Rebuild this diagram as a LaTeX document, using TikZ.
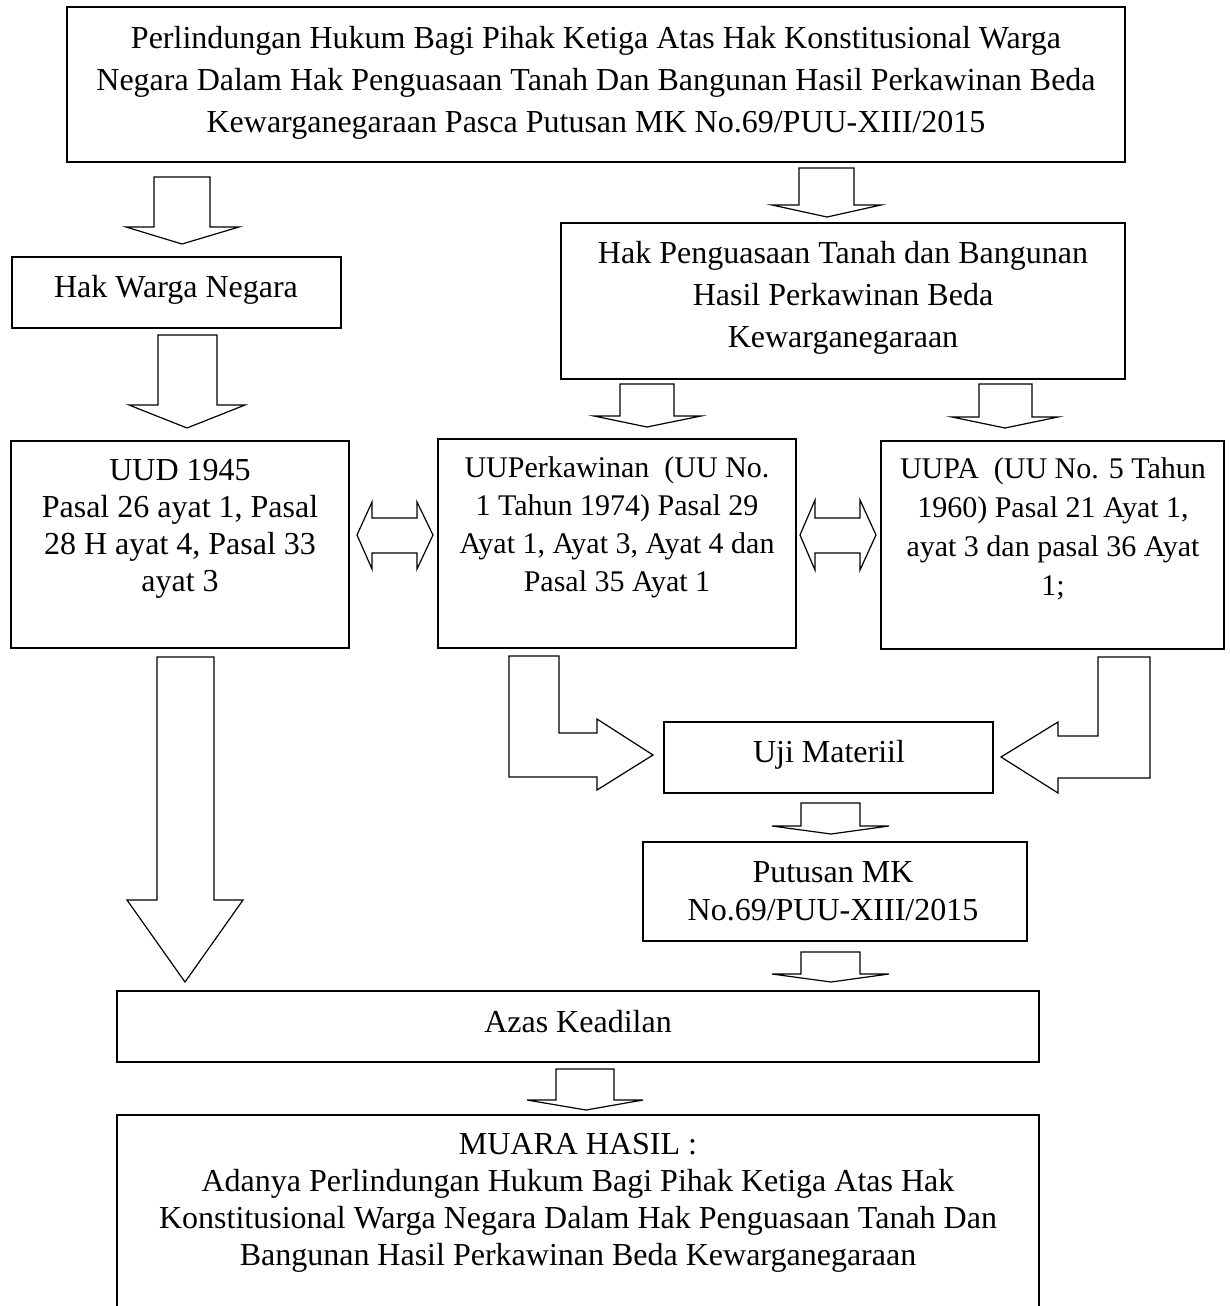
\documentclass[tikz,border=0pt]{standalone}
\usepackage{fontspec}
\setmainfont{Liberation Serif}
\tikzset{
  box/.style={draw, line width=1.6pt, inner sep=0pt},
  blk/.style={draw, line width=1.2pt, line join=miter, fill=white},
  txt/.style={inner sep=0pt, align=center},
}
% block arrow pointing down: xl xr hl hr top heady tipx tipy
\newcommand\mydown[8]{%
  \draw[blk] (#1,#5) -- (#2,#5) -- (#2,#6) -- (#4,#6) -- (#7,#8) -- (#3,#6) -- (#1,#6) -- cycle;}
% double block arrow: tipL innerL innerR tipR headtop shafttop shaftbot headbot mid
\newcommand\mydouble[9]{%
  \draw[blk] (#1,#9) -- (#2,#5) -- (#2,#6) -- (#3,#6) -- (#3,#5) -- (#4,#9)
    -- (#3,#8) -- (#3,#7) -- (#2,#7) -- (#2,#8) -- cycle;}
\begin{document}
\begin{tikzpicture}[x=1pt,y=-1pt]
\clip (0,0) rectangle (1229,1306);
\fill[white] (0,0) rectangle (1229,1306);

% boxes
\node[box, minimum width=1058pt, minimum height=155pt] (top)   at (596,84.5) {};
\node[box, minimum width=329pt,  minimum height=71pt]  (hwn)   at (176.5,292.5) {};
\node[box, minimum width=564pt,  minimum height=156pt] (hp)    at (843,301) {};
\node[box, minimum width=338pt,  minimum height=207pt] (uud)   at (180,544.5) {};
\node[box, minimum width=358pt,  minimum height=209pt] (uup)   at (617,543.5) {};
\node[box, minimum width=343pt,  minimum height=208pt] (uupa)  at (1052.5,545) {};
\node[box, minimum width=329pt,  minimum height=71pt]  (uji)   at (828.5,757.5) {};
\node[box, minimum width=384pt,  minimum height=99pt]  (put)   at (835,891.5) {};
\node[box, minimum width=922pt,  minimum height=71pt]  (azas)  at (578,1026.5) {};
\node[box, minimum width=922pt,  minimum height=215pt] (muara) at (578,1222.5) {};

% texts
\node[txt, anchor=north, font=\fontsize{32}{42}\selectfont] (ttop) at (596,18.6)
  {\strut Perlindungan Hukum Bagi Pihak Ketiga Atas Hak Konstitusional Warga\\
   Negara Dalam Hak Penguasaan Tanah Dan Bangunan Hasil Perkawinan Beda\\
   Kewarganegaraan Pasca Putusan MK No.69/PUU-XIII/2015};
\node[txt, anchor=base, font=\fontsize{32}{42}\selectfont] (thwn) at (176,297) {Hak Warga Negara};
\node[txt, anchor=north, font=\fontsize{32}{42}\selectfont] (thp) at (843,233.6)
  {\strut Hak Penguasaan Tanah dan Bangunan\\ Hasil Perkawinan Beda\\ Kewarganegaraan};
\node[txt, anchor=north, font=\fontsize{32}{37}\selectfont] (tuud) at (180,454.1)
  {\strut UUD 1945\\ Pasal 26 ayat 1, Pasal\\ 28 H ayat 4, Pasal 33\\ ayat 3};
\node[txt, anchor=north, font=\fontsize{30}{38}\selectfont] (tuup) at (617,450.4)
  {\strut UUPerkawinan\ \ (UU No.\\ 1 Tahun 1974) Pasal 29\\ Ayat 1, Ayat 3, Ayat 4 dan\\ Pasal 35 Ayat 1};
\node[txt, anchor=north, font=\fontsize{30}{39}\selectfont] (tuupa) at (1053,450.7)
  {\strut UUPA\ \ (UU No. 5 Tahun\\ 1960) Pasal 21 Ayat 1,\\ ayat 3 dan pasal 36 Ayat\\ 1;};
\node[txt, anchor=base, font=\fontsize{32}{42}\selectfont] (tuji) at (829,762) {Uji Materiil};
\node[txt, anchor=north, font=\fontsize{32}{38}\selectfont] (tput) at (833,855.4)
  {\strut Putusan MK\\ No.69/PUU-XIII/2015};
\node[txt, anchor=base, font=\fontsize{32}{42}\selectfont] (tazas) at (578,1032) {Azas Keadilan};
\node[txt, anchor=north, font=\fontsize{32}{37}\selectfont] (tmuara) at (578,1128.1)
  {\strut MUARA HASIL :\\ Adanya Perlindungan Hukum Bagi Pihak Ketiga Atas Hak\\
   Konstitusional Warga Negara Dalam Hak Penguasaan Tanah Dan\\
   Bangunan Hasil Perkawinan Beda Kewarganegaraan};

% down block arrows
\mydown{154}{210}{126}{239}{177}{227}{182}{244}
\mydown{799}{854}{772}{881}{168}{205}{827}{217}
\mydown{158}{217}{129}{245}{335}{405}{187}{428}
\mydown{620}{674}{594}{701}{384}{416}{647}{427}
\mydown{979}{1032}{952}{1058}{384}{417}{1005}{428}
\mydown{157}{214}{127}{243}{657}{900}{185}{982}
\mydown{801}{860}{772}{889}{803}{826}{831}{834}
\mydown{801}{860}{772}{889}{952}{974}{831}{982}
\mydown{556}{614}{527}{643}{1069}{1100}{586}{1110}

% double arrows
\mydouble{357}{372}{417}{433}{502}{518}{553}{569}{535}
\mydouble{800}{815}{860}{876}{500}{518}{553}{570}{535}

% bent arrows
\draw[blk] (509,656) -- (559,656) -- (559,733) -- (597,733) -- (597,719) -- (653,755)
  -- (597,790) -- (597,777) -- (509,777) -- cycle;
\draw[blk] (1150,657) -- (1098,657) -- (1098,736) -- (1058,736) -- (1058,722) -- (1001,757)
  -- (1058,793) -- (1058,778) -- (1150,778) -- cycle;
\end{tikzpicture}
\end{document}
